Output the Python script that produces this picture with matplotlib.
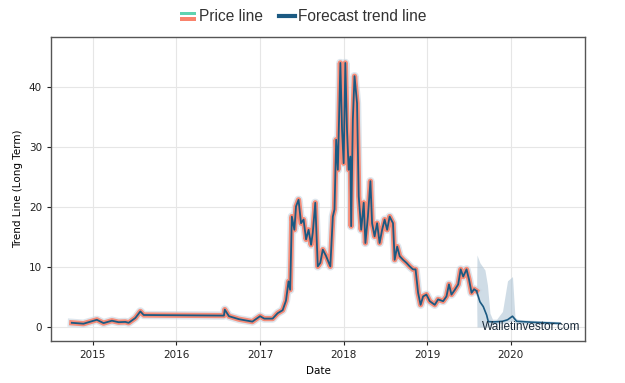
import matplotlib
matplotlib.use("Agg")
import matplotlib.pyplot as plt
import matplotlib.patches as mpatches
from matplotlib.legend_handler import HandlerBase
from matplotlib.lines import Line2D
import pandas as pd
import numpy as np

# ---- data (decimal years, values) ----
price_t = [2014.75, 2014.89, 2014.95, 2015.05, 2015.13, 2015.23, 2015.31, 2015.39, 2015.43,
           2015.51, 2015.57, 2015.61, 2016.57, 2016.58, 2016.63, 2016.75, 2016.91, 2017.0,
           2017.05, 2017.15, 2017.21, 2017.27, 2017.31, 2017.34, 2017.36, 2017.38, 2017.41,
           2017.43, 2017.46, 2017.49, 2017.52, 2017.55, 2017.58, 2017.61, 2017.63, 2017.66,
           2017.69, 2017.72, 2017.75, 2017.79, 2017.84, 2017.87, 2017.89, 2017.91, 2017.93,
           2017.96, 2017.98, 2018.0, 2018.02, 2018.04, 2018.06, 2018.08, 2018.09, 2018.11,
           2018.13, 2018.16, 2018.18, 2018.21, 2018.24, 2018.26, 2018.29, 2018.32, 2018.34,
           2018.37, 2018.40, 2018.43, 2018.46, 2018.49, 2018.52, 2018.55, 2018.59, 2018.61,
           2018.64, 2018.67, 2018.71, 2018.75, 2018.79, 2018.83, 2018.86, 2018.89, 2018.92,
           2018.95, 2018.99, 2019.03, 2019.09, 2019.13, 2019.19, 2019.23, 2019.26, 2019.29,
           2019.33, 2019.37, 2019.40, 2019.43, 2019.47, 2019.50, 2019.53, 2019.56, 2019.59]
price_v = [0.7, 0.55, 0.8, 1.2, 0.65, 1.05, 0.8, 0.85, 0.7,
           1.5, 2.6, 2.0, 1.9, 2.9, 1.8, 1.3, 0.9, 1.8,
           1.4, 1.4, 2.3, 2.8, 4.4, 7.6, 6.2, 18.4, 16.2,
           20.1, 21.2, 17.3, 17.9, 14.6, 16.2, 13.7, 15.7, 20.7,
           10.1, 10.7, 12.9, 11.8, 10.1, 18.4, 19.6, 31.2, 26.2,
           44.0, 32.9, 27.3, 44.0, 32.9, 26.2, 28.4, 16.8, 34.6,
           41.8, 37.3, 21.8, 16.2, 20.7, 14.0, 18.4, 24.3, 17.3,
           15.1, 17.3, 14.0, 16.2, 17.9, 16.2, 18.4, 17.3, 11.2,
           13.4, 11.8, 11.2, 10.7, 10.1, 9.6, 9.6, 5.7, 3.7,
           5.1, 5.4, 4.3, 3.7, 4.6, 4.3, 5.1, 7.1, 5.4,
           6.2, 7.1, 9.6, 8.4, 9.6, 7.9, 5.7, 6.3, 6.0]

fc_t = [2019.59, 2019.63, 2019.67, 2019.71, 2019.73, 2019.80, 2019.90, 2019.96, 2020.02,
        2020.07, 2020.25, 2020.59]
fc_v = [6.0, 4.2, 3.4, 2.0, 0.9, 0.85, 0.95, 1.2, 1.8, 0.95, 0.8, 0.6]

band_t = [2019.59, 2019.595, 2019.63, 2019.69, 2019.72, 2019.75, 2019.78, 2019.83, 2019.90,
          2019.96, 2020.02, 2020.05, 2020.08, 2020.15, 2020.59]
band_hi = [6.0, 12.0, 10.7, 9.5, 7.0, 2.3, 1.3, 1.3, 2.6, 7.7, 8.4, 1.6, 1.3, 1.2, 0.9]
band_lo = [6.0, 0.0, 0.0, 0.0, 0.0, 0.2, 0.4, 0.5, 0.6, 0.8, 1.0, 0.7, 0.6, 0.5, 0.4]

year_ticks = [2015, 2016, 2017, 2018, 2019, 2020]
y_ticks = [0, 10, 20, 30, 40]


def to_dates(ts):
    out = []
    for t in ts:
        y = int(np.floor(t))
        out.append(pd.Timestamp(year=y, month=1, day=1) + pd.Timedelta(days=(t - y) * 365.25))
    return out


pdates = to_dates(price_t)
fdates = to_dates(fc_t)
bdates = to_dates(band_t)

fig = plt.figure(figsize=(6.25, 3.83), dpi=100)
ax = fig.add_axes([0.0816, 0.1097, 0.8544, 0.7933])

salmon = "#f9836c"
navy = "#1b5a82"

ax.fill_between(bdates, band_lo, band_hi, color="#a9c0d2", alpha=0.55, lw=0)
ax.plot(pdates, price_v, color="#c8d6e2", lw=6.0, alpha=0.6, solid_joinstyle="round", zorder=2)
ax.plot(pdates, price_v, color=salmon, lw=3.8, alpha=0.9, solid_joinstyle="round", zorder=3)
ax.plot(pdates, price_v, color=navy, lw=1.3, zorder=4)
ax.plot(fdates, fc_v, color=navy, lw=1.2, zorder=4)

ax.set_xlim(pd.Timestamp("2014-07-03"), pd.Timestamp("2020-11-20"))
ax.set_ylim(-2.33, 48.3)
ax.set_xticks([pd.Timestamp(year=y, month=1, day=1) for y in year_ticks])
ax.set_xticklabels([str(y) for y in year_ticks])
ax.set_yticks(y_ticks)
ax.tick_params(labelsize=7.5, colors="#222222", length=3)
ax.grid(True, color="#e6e6e6", lw=0.8)
ax.set_axisbelow(True)
for s in ax.spines.values():
    s.set_color("#555555")
    s.set_linewidth(1.0)
ax.set_xlabel("Date", fontsize=7.5)
ax.set_ylabel("Trend Line (Long Term)", fontsize=7.5)

ax.text(0.992, 0.045, "Walletinvestor.com", transform=ax.transAxes, ha="right", va="center",
        fontsize=8.5, family="Liberation Sans", color="#1a2a3a", zorder=6)


class TwoColorHandler(HandlerBase):
    def create_artists(self, legend, orig_handle, xdescent, ydescent, width, height, fontsize, trans):
        h = height * 0.32
        r1 = mpatches.Rectangle((-xdescent, -ydescent + height * 0.55), width, h,
                                facecolor="#5fd3b0", edgecolor="none", transform=trans)
        r2 = mpatches.Rectangle((-xdescent, -ydescent + height * 0.05), width, h,
                                facecolor=salmon, edgecolor="none", transform=trans)
        return [r1, r2]


price_handle = mpatches.Patch(color=salmon)
fc_handle = Line2D([0], [0], color=navy, lw=3)
fig.legend([price_handle, fc_handle], ["Price line", "Forecast trend line"],
           handler_map={price_handle: TwoColorHandler()},
           loc="center", bbox_to_anchor=(0.4856, 0.956), ncol=2, frameon=False,
           prop={"family": "Liberation Sans", "size": 11.2},
           handlelength=1.0, handletextpad=0.25, columnspacing=1.0,
           borderpad=0.2, labelcolor="#333333")

fig.savefig("out.png", dpi=100)
